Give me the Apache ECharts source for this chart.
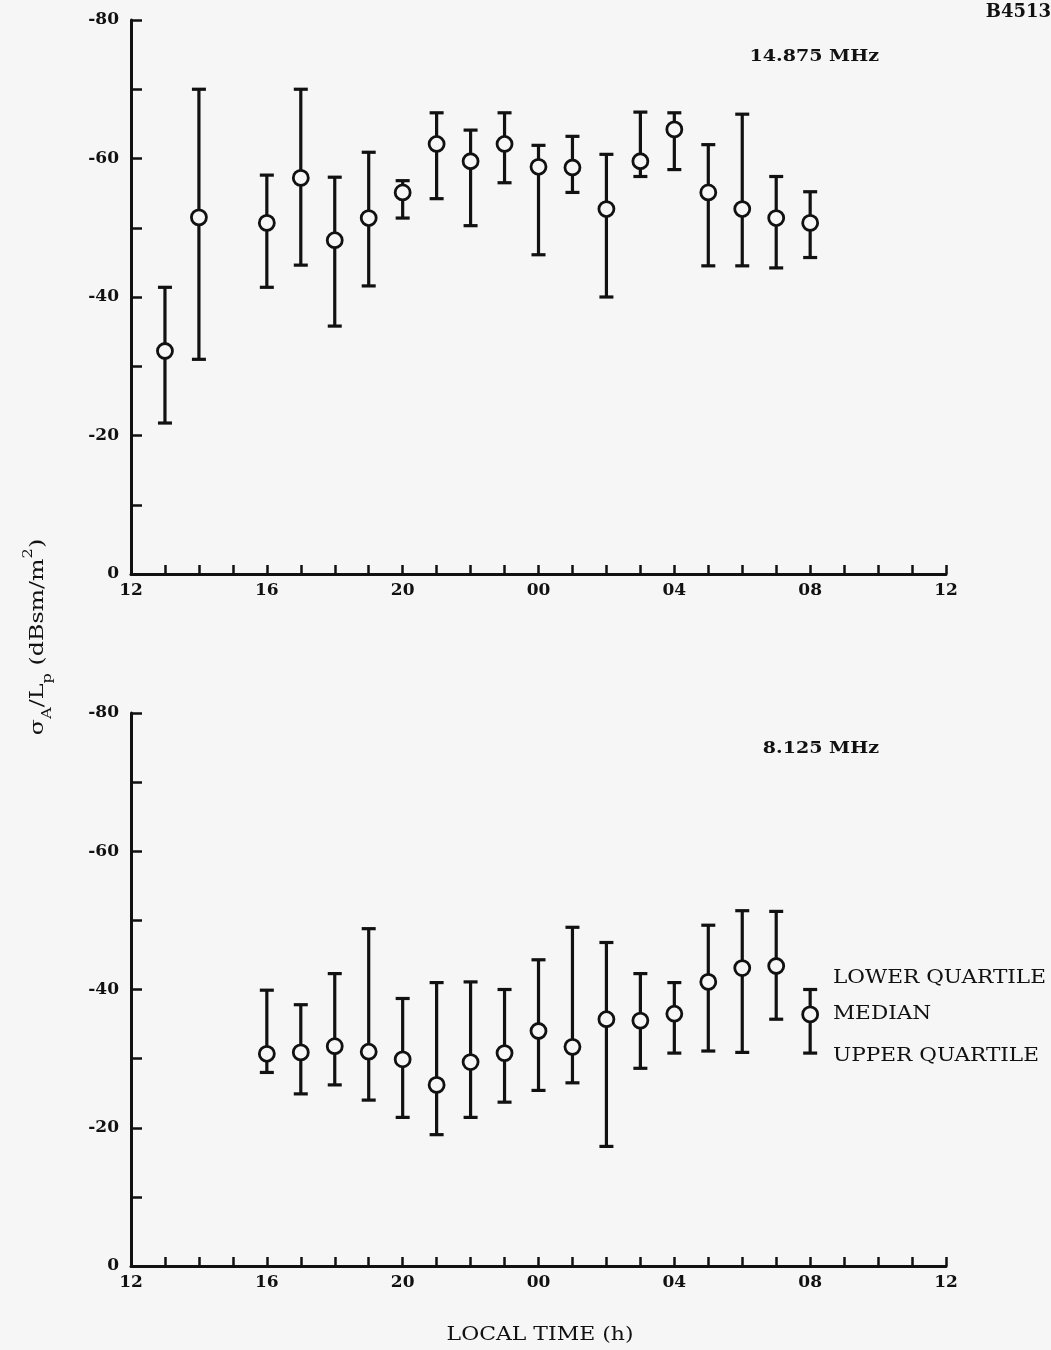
<!DOCTYPE html>
<html>
<head>
<meta charset="utf-8">
<script src="https://cdn.jsdelivr.net/npm/echarts@6/dist/echarts.min.js"></script>
<style>
  html, body { margin: 0; padding: 0; background: #f6f6f6; }
  #chart { width: 1051px; height: 1350px; }
</style>
</head>
<body>
<div id="chart"></div>
<script>
// ---- Data (local time in hours, 12 = noon, 24 = midnight, 36 = next noon) ----
const xTickLabels = ['12', '16', '20', '00', '04', '08', '12'];

// 14.875 MHz panel
const hfHours  = [13, 14, 16, 17, 18, 19, 20, 21, 22, 23, 24, 25, 26, 27, 28, 29, 30, 31, 32];
const hfMedian = [-32.2, -51.5, -50.7, -57.2, -48.2, -51.4, -55.1, -62.1, -59.6, -62.1, -58.8, -58.7, -52.7, -59.6, -64.2, -55.1, -52.7, -51.4, -50.7];
const hfLowerQ = [-41.4, -70.0, -57.6, -70.0, -57.3, -60.9, -56.8, -66.6, -64.1, -66.6, -61.9, -63.2, -60.6, -66.7, -66.6, -62.0, -66.4, -57.4, -55.2];
const hfUpperQ = [-21.8, -31.0, -41.4, -44.6, -35.8, -41.6, -51.4, -54.2, -50.3, -56.5, -46.1, -55.1, -40.0, -57.4, -58.4, -44.5, -44.5, -44.2, -45.7];

// 8.125 MHz panel
const lfHours  = [16, 17, 18, 19, 20, 21, 22, 23, 24, 25, 26, 27, 28, 29, 30, 31, 32];
const lfMedian = [-30.7, -30.9, -31.8, -31.0, -29.9, -26.2, -29.5, -30.8, -34.0, -31.7, -35.7, -35.5, -36.5, -41.1, -43.1, -43.4, -36.4];
const lfLowerQ = [-39.9, -37.8, -42.3, -48.8, -38.7, -41.0, -41.1, -40.0, -44.3, -49.0, -46.8, -42.3, -41.0, -49.3, -51.4, -51.3, -40.0];
const lfUpperQ = [-28.0, -24.9, -26.2, -24.0, -21.5, -19.0, -21.5, -23.7, -25.4, -26.5, -17.3, -28.6, -30.8, -31.1, -30.9, -35.7, -30.8];

// ---- Styling ----
const INK = '#111';
const BG = '#f6f6f6';
const FONT = 'DejaVu Serif';

function xAxisCfg(gridIndex) {
  return {
    type: 'value', gridIndex: gridIndex, min: 12, max: 36, interval: 1,
    axisLine: { show: true, onZero: false, lineStyle: { color: INK, width: 3 } },
    axisTick: { show: true, inside: true, length: 9, lineStyle: { color: INK, width: 2.5 } },
    splitLine: { show: false },
    axisLabel: {
      margin: 8, color: INK, fontFamily: FONT, fontSize: 17, fontWeight: 'bold',
      showMinLabel: true, showMaxLabel: true,
      formatter: function (v) {
        const k = v - 12;
        return (k % 4 === 0) ? xTickLabels[k / 4] : '';
      }
    }
  };
}
function yAxisCfg(gridIndex) {
  return {
    type: 'value', gridIndex: gridIndex, min: -80, max: 0, interval: 10, inverse: true,
    axisLine: { show: true, onZero: false, lineStyle: { color: INK, width: 3 } },
    axisTick: { show: true, inside: true, length: 11, lineStyle: { color: INK, width: 2.5 } },
    splitLine: { show: false },
    axisLabel: {
      margin: 12, color: INK, fontFamily: FONT, fontSize: 17, fontWeight: 'bold',
      formatter: function (v) { return (v % 20 === 0) ? String(v) : ''; }
    }
  };
}

function errRender(params, api) {
  const x = api.value(0), lo = api.value(1), hi = api.value(2);
  const p1 = api.coord([x, lo]);
  const p2 = api.coord([x, hi]);
  const hw = 7;
  const st = { stroke: INK, lineWidth: 3.2 };
  return {
    type: 'group',
    children: [
      { type: 'line', shape: { x1: p1[0], y1: p1[1], x2: p2[0], y2: p2[1] }, style: st },
      { type: 'line', shape: { x1: p1[0] - hw, y1: p1[1], x2: p1[0] + hw, y2: p1[1] }, style: st },
      { type: 'line', shape: { x1: p2[0] - hw, y1: p2[1], x2: p2[0] + hw, y2: p2[1] }, style: st }
    ]
  };
}

function errData(h, lo, hi) { return h.map((x, i) => [x, lo[i], hi[i]]); }
function medData(h, m) { return h.map((x, i) => [x, m[i]]); }

function panelSeries(idx, h, m, lo, hi) {
  return [
    {
      type: 'custom', xAxisIndex: idx, yAxisIndex: idx,
      renderItem: errRender, encode: { x: 0, y: [1, 2] },
      data: errData(h, lo, hi), z: 2, silent: true
    },
    {
      type: 'scatter', xAxisIndex: idx, yAxisIndex: idx,
      symbol: 'circle', symbolSize: 15,
      itemStyle: { color: BG, borderColor: INK, borderWidth: 2.8, opacity: 1 },
      data: medData(h, m), z: 3, silent: true
    }
  ];
}

function label(text, x, y, align, size, weight, sx) {
  return {
    type: 'text', x: x, y: y, scaleX: sx || 1,
    style: { text: text, fill: INK, font: (weight || 'normal') + ' ' + size + 'px "DejaVu Serif"', align: align, verticalAlign: 'middle' }
  };
}

const chart = echarts.init(document.getElementById('chart'), null, { renderer: 'canvas' });

const option = {
  backgroundColor: BG,
  animation: false,
  grid: [
    { left: 131, top: 20, width: 815, height: 554 },
    { left: 131, top: 713, width: 815, height: 553 }
  ],
  xAxis: [xAxisCfg(0), xAxisCfg(1)],
  yAxis: [yAxisCfg(0), yAxisCfg(1)],
  series: [].concat(
    panelSeries(0, hfHours, hfMedian, hfLowerQ, hfUpperQ),
    panelSeries(1, lfHours, lfMedian, lfLowerQ, lfUpperQ)
  ),
  graphic: [
    label('B4513', 1051, 12, 'right', 18, 'bold', 1),
    label('14.875 MHz', 879, 57, 'right', 17, 'bold', 1.12),
    label('8.125 MHz', 879, 749, 'right', 17, 'bold', 1.12),
    label('LOWER QUARTILE', 833, 978, 'left', 18, 'normal', 1.2),
    label('MEDIAN', 833, 1014, 'left', 18, 'normal', 1.2),
    label('UPPER QUARTILE', 833, 1056, 'left', 18, 'normal', 1.2),
    label('LOCAL TIME (h)', 540, 1335, 'center', 18, 'normal', 1.22),
    {
      type: 'text', x: 38, y: 637, rotation: Math.PI / 2, scaleX: 1.25,
      style: {
        text: '{m|σ}{s|A}{m|/L}{s|p}{m| (dBsm/m}{u|2}{m|)}',
        fill: INK, align: 'center', verticalAlign: 'middle',
        rich: {
          m: { fontFamily: FONT, fontSize: 19, lineHeight: 32, fill: INK },
          s: { fontFamily: FONT, fontSize: 13, lineHeight: 15, verticalAlign: 'bottom', fill: INK },
          u: { fontFamily: FONT, fontSize: 13, lineHeight: 15, verticalAlign: 'top', fill: INK }
        }
      }
    }
  ]
};
chart.setOption(option);
</script>
</body>
</html>
